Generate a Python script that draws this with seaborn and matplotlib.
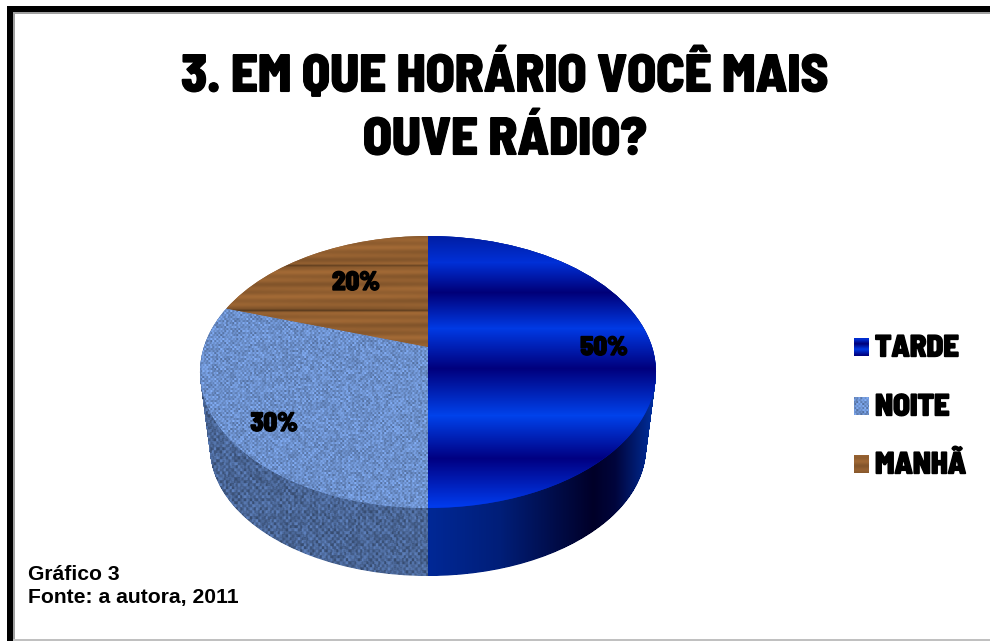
import numpy as np
import seaborn as sns
import matplotlib.pyplot as plt
import matplotlib.patheffects as pe
from matplotlib.path import Path
from matplotlib.patches import Rectangle
from matplotlib.transforms import Transform

# data
categories = ['TARDE', 'NOITE', 'MANHÃ']
values = [50, 30, 20]
title_lines = ['3. EM QUE HORÁRIO VOCÊ MAIS', 'OUVE RÁDIO?']
footer_lines = ['Gráfico 3', 'Fonte: a autora, 2011']

# flat colours under the textures
base_colors = ['#0028c0', '#6c91cd', '#8c5a2d']

W, H = 990, 641
sns.set_theme(style='white')
plt.rcParams['font.family'] = ['Liberation Sans', 'DejaVu Sans']
heavy_font = ['Barlow Semi Condensed', 'Liberation Sans']


# the pie is drawn on the unit disc, this puts it in perspective on the page
def warp(uv, cy=372.0, rx=228.0, ry=136.0, apex=25.0):
    k = apex / ry
    w = 1 + k * uv[:, 1]
    x = 428 + rx * np.sqrt(1 - k ** 2) * uv[:, 0] / w
    y = cy - (ry * uv[:, 1] + apex) / w
    return np.column_stack([x, y])


class Perspective(Transform):
    input_dims = output_dims = 2

    def transform_non_affine(self, values):
        return warp(np.asarray(values))


# textures, one full page each, clipped to the slices later
xx, yy = np.meshgrid(np.arange(W), np.arange(H))


def tint(rgb, shade):
    return np.clip(np.dstack([c * shade for c in rgb]), 0, 255).astype(np.uint8)


def speckle(x, y):
    # fixed per pixel grain for the cloth
    v = np.sin(x * 12.9898 + y * 78.233) * 43758.5453
    return 2 * (v - np.floor(v)) - 1


band_y = [236, 262, 292, 328, 368, 415, 458, 505]
band_g = [30, 48, 0, 58, 0, 66, 0, 58]
band_b = [165, 215, 120, 228, 125, 235, 130, 235]
blue_top = np.dstack([np.zeros_like(xx), np.interp(yy, band_y, band_g), np.interp(yy, band_y, band_b)]).astype(np.uint8)

side_x = [428, 500, 593, 615, 656]
side_g = [40, 30, 0, 5, 50]
side_b = [150, 120, 40, 60, 165]
blue_side = np.dstack([np.zeros_like(xx), np.interp(xx, side_x, side_g), np.interp(xx, side_x, side_b)]).astype(np.uint8)

weave = np.sin(np.pi * xx / 2) * np.sin(np.pi * yy / 2 + 0.6)
linen_top = tint((108, 144, 204), 1 + 0.12 * weave + 0.13 * speckle(xx // 2, yy // 2))
weave2 = np.sin(np.pi * xx / 3) * np.sin(np.pi * yy / 3)
linen_side = tint((74, 102, 150), 1 + 0.14 * weave2 + 0.16 * speckle(xx // 2, yy // 3))

grain = 1 + 0.06 * np.sin(yy / 1.3) + 0.05 * np.sin(yy / 3.7 + xx / 90)
grain = grain - 0.3 * np.exp(-((yy - 265) / 1.2) ** 2) - 0.3 * np.exp(-((yy - 310) / 1.2) ** 2)
wood = tint((146, 95, 48), grain)

fig = plt.figure(figsize=(W / 100, H / 100), dpi=100)
ax = fig.add_axes([0, 0, 1, 1])

wedges, _ = ax.pie(values, colors=base_colors, startangle=90, counterclock=False,
                   wedgeprops={'linewidth': 0})
disc_paths = [w.get_path() for w in wedges]


def show(texture, clip, z):
    im = ax.imshow(texture, extent=(0, W, H, 0), aspect='auto', interpolation='bilinear', zorder=z)
    im.set_clip_path(clip, ax.transData)


# side wall: stack of shrinking discs going down to the bottom ellipse
steps = np.linspace(1, 0, 90)
for path, texture in zip(disc_paths[:2], [blue_side, linen_side]):
    layers = [Path(warp(path.vertices, cy=372 + 76 * t, rx=228 - 10 * t, ry=136 - 8 * t), path.codes)
              for t in steps]
    show(texture, Path.make_compound_path(*layers), 1)

# top face
for wedge, path, texture in zip(wedges, disc_paths, [blue_top, linen_top, wood]):
    wedge.set_transform(Perspective() + ax.transData)
    wedge.set_zorder(2)
    show(texture, Path(warp(path.vertices), path.codes), 3)

heavy = [pe.withStroke(linewidth=1.0, foreground='black')]

label_x = [604, 274, 356]
label_y = [348, 424, 283]
for v, x, y in zip(values, label_x, label_y):
    ax.text(x, y, f'{v}%', ha='center', va='center', fontsize=19, fontweight=800, family=heavy_font,
            color='black', path_effects=heavy, zorder=5)

for line, y in zip(title_lines, [74, 140]):
    ax.text(505, y, line, ha='center', va='center', fontsize=38, fontweight=800, family=heavy_font,
            color='black', path_effects=[pe.withStroke(linewidth=0.8, foreground='black')], zorder=5)

# legend
swatch_top = [338, 397, 455]
for name, texture, y in zip(categories, [blue_top[255:373, 500:515], linen_top[300:318, 300:315], wood[290:308, 380:395]], swatch_top):
    ax.imshow(texture, extent=(854, 869, y + 18, y), aspect='auto', interpolation='bilinear', zorder=5)
    ax.text(875, y + 11, name, ha='left', va='center', fontsize=22, fontweight=800, family=heavy_font,
            color='black', path_effects=heavy, zorder=5)

for line, y in zip(footer_lines, [574, 597]):
    ax.text(28, y, line, ha='left', va='center', fontsize=15.2, fontweight='bold', color='black', zorder=5)

# page frame
ax.add_patch(Rectangle((7, 6), W, 6, color='black', zorder=6, lw=0))
ax.add_patch(Rectangle((7, 6), 6, H, color='black', zorder=6, lw=0))
ax.add_patch(Rectangle((13, 12), 2, H, color='#a0a0a0', zorder=6, lw=0))
ax.add_patch(Rectangle((13, 12), W, 1.5, color='#a0a0a0', zorder=6, lw=0))
ax.add_patch(Rectangle((13, 639), W, 2, color='#c0c0c0', zorder=6, lw=0))

ax.set_aspect('auto')
ax.set_xlim(0, W)
ax.set_ylim(H, 0)
ax.set_axis_off()

fig.savefig('out.png', dpi=100, facecolor='white')
